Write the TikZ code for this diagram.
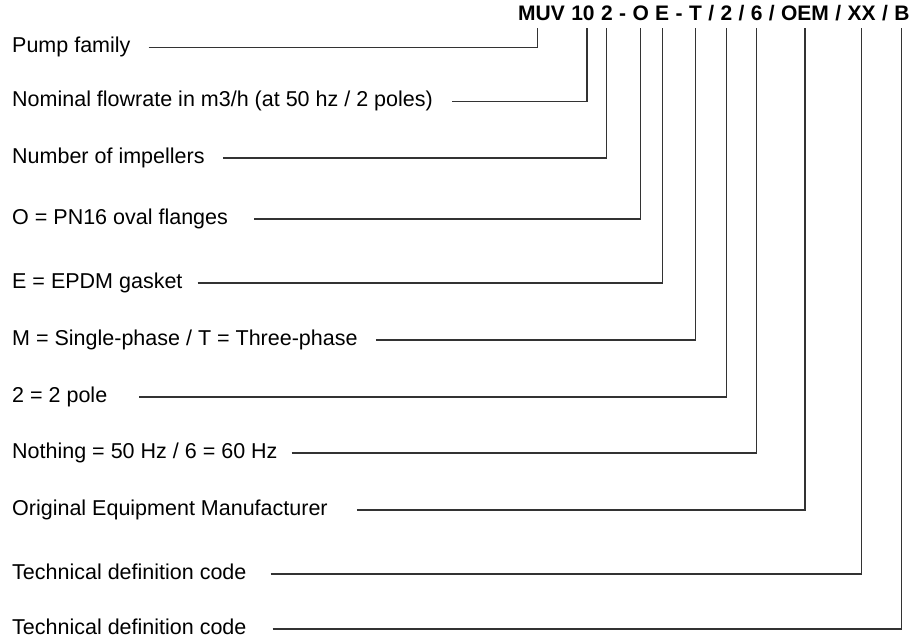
\documentclass[tikz,border=0pt]{standalone}
\usepackage{fontspec}
\setmainfont{Liberation Sans}
\usetikzlibrary{positioning}

\begin{document}
\begin{tikzpicture}[x=1pt, y=-1pt, every node/.style={inner sep=0pt, font=\fontsize{21.5}{25}\selectfont}, code/.style={font=\fontsize{21}{25}\selectfont\bfseries}, lead/.style={line width=1.2pt, draw=black!80}]
		\useasboundingbox (0, 0) rectangle (920, 643);

		% type code
		\node[code, anchor=base west] (muv) at (518, 20) {MUV};
		\node[code, base right=6pt of muv] (ten) {10};
		\node[code, base right=6pt of ten] (imp) {2};
		\node[code, base right=6pt of imp] (d1) {-};
		\node[code, base right=6pt of d1] (o) {O};
		\node[code, base right=6pt of o] (e) {E};
		\node[code, base right=6pt of e] (d2) {-};
		\node[code, base right=6pt of d2] (t) {T};
		\node[code, base right=6pt of t] (s1) {/};
		\node[code, base right=6pt of s1] (pole) {2};
		\node[code, base right=6pt of pole] (s2) {/};
		\node[code, base right=6pt of s2] (hz) {6};
		\node[code, base right=6pt of hz] (s3) {/};
		\node[code, base right=6pt of s3] (oem) {OEM};
		\node[code, base right=6pt of oem] (s4) {/};
		\node[code, base right=6pt of s4] (xx) {XX};
		\node[code, base right=6pt of xx] (s5) {/};
		\node[code, base right=6pt of s5] (b) {B};

		% meanings
		\node[anchor=base west] (l1) at (12, 52.7) {Pump family};
		\node[anchor=base west] (l2) at (12, 106.7) {Nominal flowrate in m3/h (at 50 hz / 2 poles)};
		\node[anchor=base west] (l3) at (12, 163) {Number of impellers};
		\node[anchor=base west] (l4) at (12, 224) {O = PN16 oval flanges};
		\node[anchor=base west] (l5) at (12, 288) {E = EPDM gasket};
		\node[anchor=base west] (l6) at (12, 345) {M = Single-phase / T = Three-phase};
		\node[anchor=base west] (l7) at (12, 402) {2 = 2 pole};
		\node[anchor=base west] (l8) at (12, 458) {Nothing = 50 Hz / 6 = 60 Hz};
		\node[anchor=base west] (l9) at (12, 515) {Original Equipment Manufacturer};
		\node[anchor=base west] (l10) at (12, 579) {Technical definition code};
		\node[anchor=base west] (l11) at (12, 634) {Technical definition code};

		\draw[lead] ([xshift=18pt, yshift=5pt]l1.base east) -| ([xshift=-4pt, yshift=-8pt]muv.south);
		\draw[lead] ([xshift=19pt, yshift=5pt]l2.base east) -| ([xshift=4pt, yshift=-8pt]ten.south);
		\draw[lead] ([xshift=18pt, yshift=5pt]l3.base east) -| ([yshift=-8pt]imp.south);
		\draw[lead] ([xshift=26pt, yshift=5pt]l4.base east) -| ([yshift=-8pt]o.south);
		\draw[lead] ([xshift=15pt, yshift=5pt]l5.base east) -| ([yshift=-8pt]e.south);
		\draw[lead] ([xshift=18pt, yshift=5pt]l6.base east) -| ([yshift=-8pt]t.south);
		\draw[lead] ([xshift=32pt, yshift=5pt]l7.base east) -| ([yshift=-8pt]pole.south);
		\draw[lead] ([xshift=14pt, yshift=5pt]l8.base east) -| ([yshift=-8pt]hz.south);
		\draw[lead] ([xshift=29pt, yshift=5pt]l9.base east) -| ([yshift=-8pt]oem.south);
		\draw[lead] ([xshift=24pt, yshift=5pt]l10.base east) -| ([yshift=-8pt]xx.south);
		\draw[lead] ([xshift=26pt, yshift=5pt]l11.base east) -| ([yshift=-8pt]b.south);
	\end{tikzpicture}
\end{document}
